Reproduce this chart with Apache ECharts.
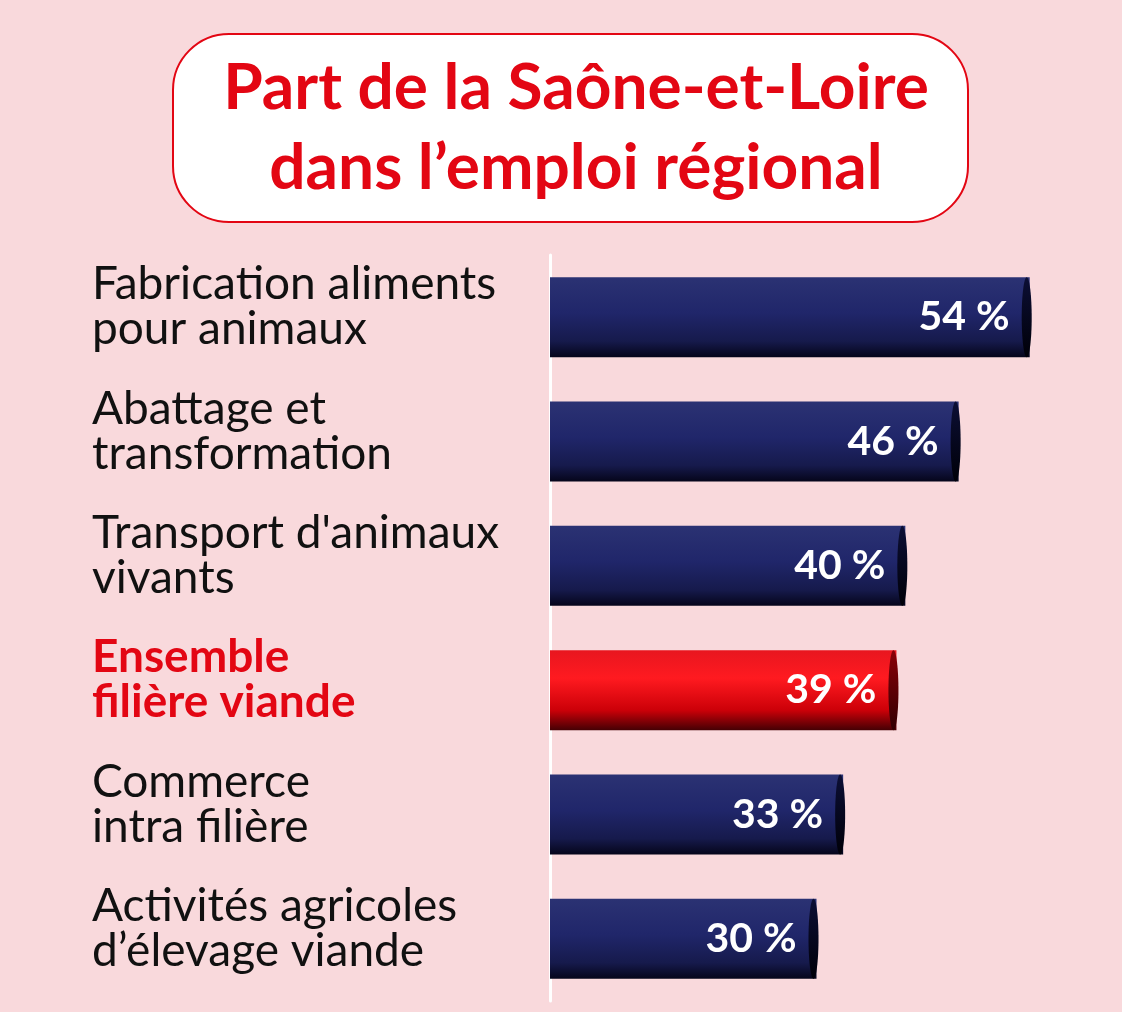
<!DOCTYPE html>
<html><head><meta charset="utf-8">
<script src="https://cdn.jsdelivr.net/npm/echarts@6/dist/echarts.min.js"></script>
<style>html,body{margin:0;padding:0;background:#f9d9dc;}#c{width:1122px;height:1012px;}</style>
</head><body><div id="c"></div>
<script>
const categories = [
  "Fabrication aliments\npour animaux",
  "Abattage et\ntransformation",
  "Transport d'animaux\nvivants",
  "Ensemble\nfilière viande",
  "Commerce\nintra filière",
  "Activités agricoles\nd’élevage viande"
];
const values = [54, 46, 40, 39, 33, 30];
const highlightIndex = 3;
const titleLines = ["Part de la Saône-et-Loire", "dans l’emploi régional"];

const navy = new echarts.graphic.LinearGradient(0,0,0,1,[
  {offset:0,color:'#2b3273'},{offset:0.45,color:'#20266a'},{offset:0.8,color:'#161a4c'},{offset:1,color:'#05051a'}]);
const red = new echarts.graphic.LinearGradient(0,0,0,1,[
  {offset:0,color:'#e8161f'},{offset:0.35,color:'#ff1a20'},{offset:0.75,color:'#cc0008'},{offset:1,color:'#450004'}]);

const chart = echarts.init(document.getElementById('c'));
chart.setOption({
  backgroundColor:'#f9d9dc',
  animation:false,
  graphic:[
    {type:'rect',shape:{x:173,y:34,width:795,height:188,r:56},style:{fill:'#ffffff',stroke:'#e30613',lineWidth:2}},
    {type:'text',x:576,y:48,style:{text:titleLines.join('\n'),fill:'#e30613',font:'bold 64px Lato',lineHeight:80,textAlign:'center',align:'center'}}
  ],
  grid:{left:550,right:39,top:255,bottom:11,containLabel:false},
  xAxis:{type:'value',min:0,max:60,show:false},
  yAxis:{type:'category',data:categories,inverse:true,
    axisLine:{show:true,lineStyle:{color:'#ffffff',width:3}},axisTick:{show:false},
    axisLabel:{align:'left',margin:458,fontFamily:'Lato',fontSize:46,lineHeight:45,color:'#111111',padding:[0,0,20,0],
      formatter:(v,i)=> i===highlightIndex ? '{h|'+v.split('\n').join('}\n{h|')+'}' : v,
      rich:{h:{color:'#e30613',fontWeight:'bold',fontFamily:'Lato',fontSize:46,lineHeight:45}}}},
  series:[
    {type:'bar',barWidth:80,data:values.map((v,i)=>({value:v,itemStyle:{color:i===highlightIndex?red:navy}})),
     label:{show:true,position:'insideRight',distance:20,formatter:'{c} %',color:'#ffffff',fontFamily:'Lato',fontWeight:'bold',fontSize:41},z:2},
    {type:'custom',z:3,data:values.map((v,i)=>[v,i]),
     renderItem:(params,api)=>{
       const end = api.coord([api.value(0),api.value(1)]);
       const h = 80;
       const i = api.value(1);
       return {type:'ellipse',shape:{cx:end[0]-3,cy:end[1],rx:5,ry:h/2},
         style:{fill:new echarts.graphic.LinearGradient(0,0,0,1,[
           {offset:0,color:i===highlightIndex?'#8a0008':'#0c0f35'},{offset:1,color:i===highlightIndex?'#300002':'#000008'}])}};
     }}
  ]
});
</script></body></html>
